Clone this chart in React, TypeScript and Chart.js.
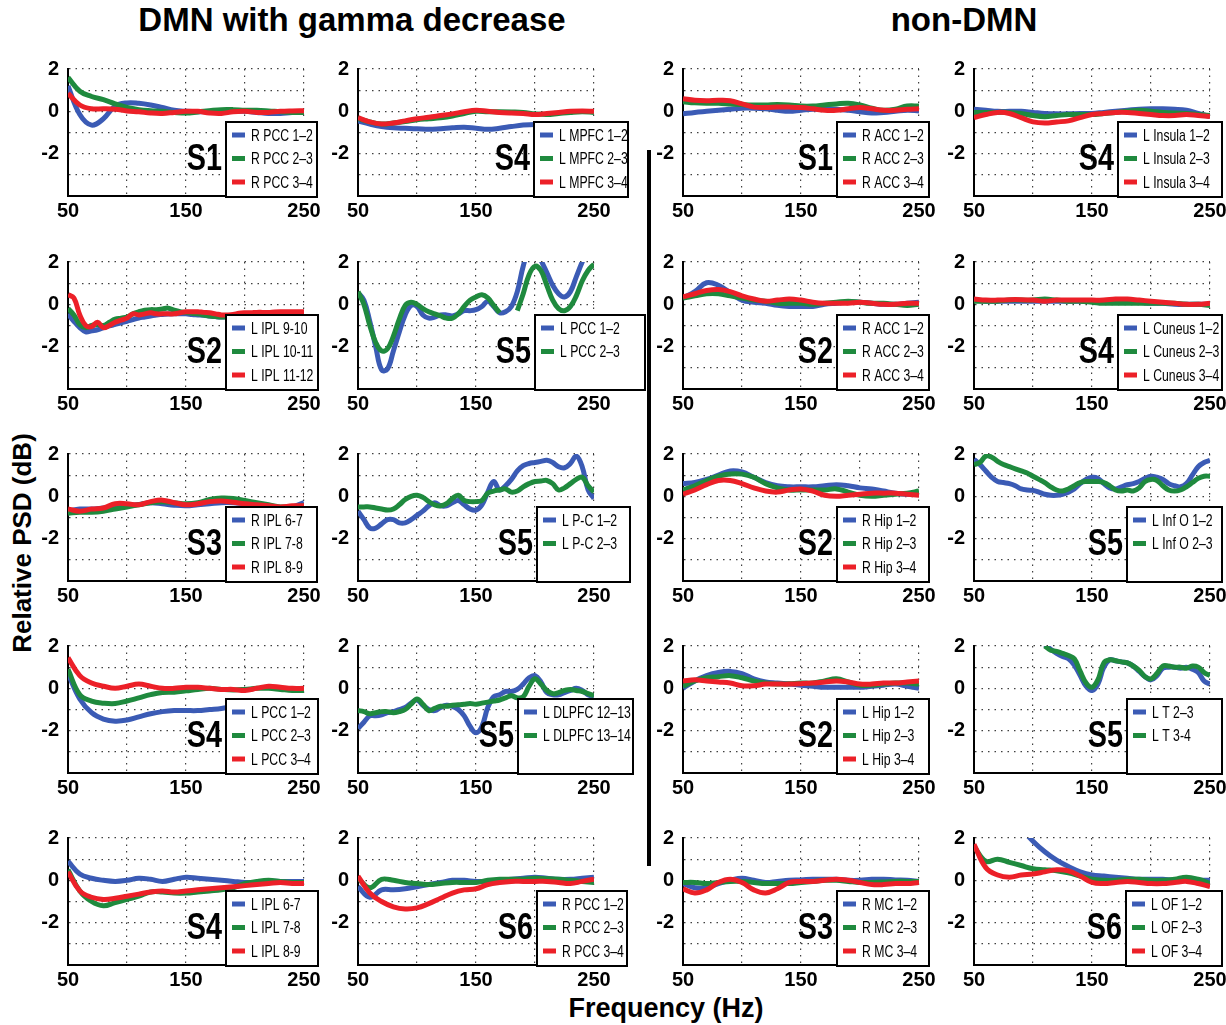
import React, { useEffect, useRef } from "react";
import { Chart, registerables } from "chart.js";

Chart.register(...registerables);

// ---------------- data ----------------
const FREQ10 = [50, 60, 70, 80, 90, 100, 110, 120, 130, 140, 150, 160, 170, 180, 190, 200, 210, 220, 230, 240, 250];
const FREQ5 = [50, 55, 60, 65, 70, 75, 80, 85, 90, 95, 100, 105, 110, 115, 120, 125, 130, 135, 140, 145, 150,
  155, 160, 165, 170, 175, 180, 185, 190, 195, 200, 205, 210, 215, 220, 225, 230, 235, 240, 245, 250];

const X_TICK_LABELS = [50, 150, 250];
const Y_TICK_LABELS = [2, 0, -2];

const TITLE_LEFT = "DMN with gamma decrease";
const TITLE_RIGHT = "non-DMN";
const Y_TITLE = "Relative PSD (dB)";
const X_TITLE = "Frequency (Hz)";

// Row 1
const RPCC_S1_LABELS = ["R PCC 1–2", "R PCC 2–3", "R PCC 3–4"];
const RPCC_S1_A = [1.2, -0.15, -0.65, -0.35, 0.25, 0.4, 0.38, 0.3, 0.18, 0.05, 0.0, -0.02, 0.0, 0.0, 0.0, 0.0, -0.05, -0.1, -0.1, -0.05, -0.05];
const RPCC_S1_B = [1.6, 0.95, 0.7, 0.55, 0.35, 0.18, 0.08, 0.03, 0.0, -0.05, -0.08, -0.03, 0.03, 0.08, 0.08, 0.05, 0.05, 0.02, -0.02, -0.05, -0.05];
const RPCC_S1_C = [0.85, 0.3, 0.12, 0.12, 0.1, 0.02, -0.02, -0.08, -0.1, -0.05, 0.0, 0.0, -0.08, -0.1, -0.02, 0.0, -0.05, -0.05, 0.0, 0.02, 0.03];

const LMPFC_S4_LABELS = ["L MPFC 1–2", "L MPFC 2–3", "L MPFC 3–4"];
const LMPFC_S4_A = [-0.45, -0.6, -0.72, -0.78, -0.8, -0.82, -0.85, -0.82, -0.78, -0.75, -0.8, -0.85, -0.8, -0.72, -0.65, -0.62, -0.65, -0.65, -0.65, -0.65, -0.65];
const LMPFC_S4_B = [-0.35, -0.5, -0.6, -0.55, -0.48, -0.4, -0.35, -0.3, -0.22, -0.1, 0.0, -0.02, -0.02, -0.03, -0.05, -0.12, -0.15, -0.1, -0.05, -0.02, -0.05];
const LMPFC_S4_C = [-0.3, -0.5, -0.6, -0.55, -0.45, -0.35, -0.28, -0.2, -0.12, -0.02, 0.05, 0.0, -0.05, -0.08, -0.1, -0.15, -0.1, -0.05, 0.0, 0.02, 0.0];

const RACC_S1_LABELS = ["R ACC 1–2", "R ACC 2–3", "R ACC 3–4"];
const RACC_S1_A = [-0.12, -0.05, 0.0, 0.05, 0.1, 0.15, 0.15, 0.12, 0.05, 0.0, 0.05, 0.1, 0.12, 0.1, 0.05, -0.02, -0.08, -0.05, 0.0, 0.05, 0.02];
const RACC_S1_B = [0.45, 0.4, 0.38, 0.38, 0.35, 0.32, 0.3, 0.3, 0.32, 0.3, 0.25, 0.25, 0.3, 0.35, 0.38, 0.3, 0.15, 0.05, 0.1, 0.25, 0.25];
const RACC_S1_C = [0.6, 0.52, 0.5, 0.52, 0.5, 0.35, 0.2, 0.18, 0.2, 0.2, 0.18, 0.12, 0.05, 0.05, 0.12, 0.18, 0.12, 0.05, 0.05, 0.1, 0.12];

const LINS_S4_LABELS = ["L Insula 1–2", "L Insula 2–3", "L Insula 3–4"];
const LINS_S4_A = [0.1, 0.05, 0.0, 0.0, 0.0, -0.05, -0.1, -0.12, -0.12, -0.1, -0.1, -0.05, 0.0, 0.05, 0.1, 0.12, 0.12, 0.1, 0.05, -0.1, -0.25];
const LINS_S4_B = [-0.05, -0.05, -0.05, -0.05, -0.1, -0.2, -0.25, -0.2, -0.15, -0.15, -0.15, -0.1, -0.05, 0.0, 0.05, 0.0, -0.05, -0.08, -0.1, -0.15, -0.2];
const LINS_S4_C = [-0.3, -0.15, -0.05, -0.1, -0.3, -0.5, -0.55, -0.5, -0.45, -0.3, -0.15, -0.1, -0.05, -0.05, -0.1, -0.15, -0.2, -0.2, -0.15, -0.2, -0.25];

// Row 2
const LIPL_S2_LABELS = ["L IPL 9-10", "L IPL 10-11", "L IPL 11-12"];
const LIPL_S2_A = [-0.45, -0.8, -1.1, -1.3, -1.25, -1.2, -1.1, -1.02, -0.95, -0.88, -0.8, -0.72, -0.65, -0.6, -0.55, -0.5, -0.48, -0.46, -0.45, -0.45, -0.45,
  -0.48, -0.5, -0.52, -0.55, -0.58, -0.6, -0.6, -0.58, -0.55, -0.5, -0.48, -0.45, -0.43, -0.42, -0.4, -0.4, -0.4, -0.4, -0.4, -0.4];
const LIPL_S2_B = [-0.2, -0.5, -0.95, -1.1, -1.0, -0.95, -1.0, -0.85, -0.7, -0.65, -0.6, -0.45, -0.35, -0.28, -0.25, -0.25, -0.22, -0.18, -0.28, -0.35, -0.38,
  -0.42, -0.45, -0.5, -0.55, -0.58, -0.6, -0.58, -0.55, -0.52, -0.5, -0.48, -0.45, -0.43, -0.42, -0.4, -0.4, -0.4, -0.4, -0.4, -0.4];
const LIPL_S2_C = [0.45, 0.3, -0.5, -1.0, -1.05, -0.85, -1.1, -1.0, -0.85, -0.75, -0.65, -0.45, -0.5, -0.45, -0.4, -0.45, -0.45, -0.45, -0.45, -0.4, -0.35,
  -0.35, -0.35, -0.38, -0.4, -0.45, -0.5, -0.5, -0.48, -0.42, -0.4, -0.4, -0.38, -0.38, -0.38, -0.36, -0.35, -0.35, -0.35, -0.35, -0.35];

const LPCC_S5_LABELS = ["L PCC 1–2", "L PCC 2–3"];
const LPCC_S5_A = [0.55, 0.2, -0.8, -2.0, -3.1, -3.05, -2.2, -1.3, -0.5, -0.05, -0.1, -0.5, -0.65, -0.6, -0.5, -0.5, -0.55, -0.45, -0.3, -0.3, -0.25,
  -0.1, 0.15, -0.1, -0.4, -0.35, -0.1, 0.6, 1.8, 2.6, 2.8, 2.1, 1.5, 0.9, 0.5, 0.35, 0.6, 1.3, 2.0, 2.6, 3.0];
const LPCC_S5_B = [0.6, 0.0, -1.0, -1.8, -2.2, -2.1, -1.5, -0.7, -0.05, 0.1, 0.0, -0.2, -0.35, -0.45, -0.55, -0.65, -0.65, -0.45, -0.1, 0.2, 0.35,
  0.45, 0.3, -0.05, -0.4, null, null, -0.3, 0.5, 1.4, 1.8, 1.6, 0.9, 0.2, -0.2, -0.3, -0.1, 0.4, 1.1, 1.6, 1.9];

const RACC_S2_LABELS = ["R ACC 1–2", "R ACC 2–3", "R ACC 3–4"];
const RACC_S2_A = [0.3, 0.6, 1.02, 0.9, 0.55, 0.2, 0.1, 0.05, -0.05, -0.1, -0.1, -0.1, 0.0, 0.05, 0.1, 0.1, 0.05, 0.0, 0.0, 0.05, 0.1];
const RACC_S2_B = [0.3, 0.4, 0.5, 0.5, 0.4, 0.3, 0.2, 0.15, 0.05, 0.05, 0.05, 0.0, 0.05, 0.1, 0.15, 0.1, 0.05, 0.05, 0.0, -0.05, 0.0];
const RACC_S2_C = [0.35, 0.5, 0.65, 0.7, 0.6, 0.4, 0.25, 0.15, 0.2, 0.25, 0.2, 0.1, 0.05, 0.05, 0.05, 0.1, 0.05, 0.0, 0.0, 0.05, 0.05];

const LCUN_S4_LABELS = ["L Cuneus 1–2", "L Cuneus 2–3", "L Cuneus 3–4"];
const LCUN_S4_A = [0.2, 0.15, 0.15, 0.15, 0.15, 0.15, 0.15, 0.15, 0.15, 0.15, 0.15, 0.15, 0.15, 0.15, 0.1, 0.05, 0.05, 0.0, 0.0, 0.0, 0.0];
const LCUN_S4_B = [0.15, 0.15, 0.15, 0.2, 0.2, 0.2, 0.25, 0.2, 0.15, 0.15, 0.1, 0.05, 0.05, 0.05, 0.05, 0.05, 0.05, 0.05, 0.0, 0.0, -0.05];
const LCUN_S4_C = [0.25, 0.2, 0.2, 0.22, 0.22, 0.2, 0.15, 0.2, 0.2, 0.2, 0.2, 0.2, 0.25, 0.25, 0.2, 0.15, 0.1, 0.05, 0.0, 0.0, 0.05];

// Row 3
const RIPL_S3_LABELS = ["R IPL 6-7", "R IPL 7-8", "R IPL 8-9"];
const RIPL_S3_A = [-0.7, -0.6, -0.6, -0.55, -0.5, -0.45, -0.38, -0.3, -0.35, -0.42, -0.45, -0.4, -0.35, -0.3, -0.3, -0.35, -0.45, -0.55, -0.6, -0.5, -0.3];
const RIPL_S3_B = [-0.8, -0.75, -0.75, -0.7, -0.6, -0.5, -0.4, -0.3, -0.25, -0.3, -0.35, -0.3, -0.15, -0.08, -0.1, -0.2, -0.3, -0.4, -0.5, -0.5, -0.45];
const RIPL_S3_C = [-0.6, -0.7, -0.6, -0.55, -0.35, -0.35, -0.4, -0.25, -0.18, -0.3, -0.4, -0.35, -0.25, -0.22, -0.28, -0.35, -0.4, -0.45, -0.5, -0.45, -0.45];

const LPC_S5_LABELS = ["L P-C 1–2", "L P-C 2–3"];
const LPC_S5_A = [-0.7, -1.1, -1.5, -1.5, -1.3, -1.1, -1.1, -1.25, -1.25, -1.1, -0.9, -0.7, -0.45, -0.3, -0.45, -0.45, -0.3, -0.2, -0.4, -0.6, -0.65,
  -0.4, 0.2, 0.7, 0.3, 0.5, 0.8, 1.2, 1.45, 1.55, 1.6, 1.65, 1.7, 1.6, 1.4, 1.35, 1.55, 1.9, 1.4, 0.3, -0.1];
const LPC_S5_B = [-0.5, -0.5, -0.5, -0.55, -0.6, -0.65, -0.6, -0.4, -0.15, 0.0, 0.05, -0.05, -0.25, -0.4, -0.45, -0.35, -0.1, 0.05, -0.2, -0.25, -0.25,
  -0.2, 0.15, 0.25, 0.3, 0.35, 0.2, 0.25, 0.45, 0.6, 0.7, 0.72, 0.75, 0.6, 0.3, 0.4, 0.6, 0.8, 0.9, 0.5, 0.2];

const RHIP_S2_LABELS = ["R Hip 1–2", "R Hip 2–3", "R Hip 3–4"];
const RHIP_S2_A = [0.6, 0.65, 0.8, 1.0, 1.2, 1.15, 0.9, 0.65, 0.5, 0.45, 0.45, 0.45, 0.5, 0.55, 0.5, 0.4, 0.35, 0.25, 0.15, 0.1, 0.1];
const RHIP_S2_B = [0.3, 0.5, 0.75, 0.95, 1.05, 1.05, 0.9, 0.6, 0.4, 0.3, 0.3, 0.3, 0.3, 0.35, 0.2, 0.05, 0.0, 0.05, 0.1, 0.15, 0.25];
const RHIP_S2_C = [0.1, 0.3, 0.55, 0.75, 0.75, 0.6, 0.4, 0.25, 0.2, 0.3, 0.35, 0.25, 0.05, 0.0, 0.05, 0.1, 0.15, 0.15, 0.15, 0.1, 0.05];

const LINFO_S5_LABELS = ["L Inf O 1–2", "L Inf O 2–3"];
const LINFO_S5_A = [1.75, 1.5, 1.2, 0.9, 0.7, 0.65, 0.6, 0.5, 0.35, 0.3, 0.28, 0.2, 0.1, 0.05, 0.05, 0.1, 0.2, 0.35, 0.6, 0.8, 0.9,
  0.85, 0.6, 0.4, 0.35, 0.45, 0.55, 0.6, 0.7, 0.85, 0.95, 0.9, 0.8, 0.6, 0.5, 0.45, 0.6, 1.0, 1.4, 1.6, 1.7];
const LINFO_S5_B = [1.5, 1.6, 1.9, 1.85, 1.65, 1.5, 1.4, 1.3, 1.2, 1.1, 0.95, 0.8, 0.65, 0.45, 0.3, 0.25, 0.35, 0.5, 0.65, 0.7, 0.7,
  0.7, 0.65, 0.5, 0.3, 0.25, 0.3, 0.25, 0.4, 0.7, 0.8, 0.75, 0.5, 0.3, 0.25, 0.3, 0.45, 0.65, 0.85, 0.95, 0.95];

// Row 4
const LPCC_S4_LABELS = ["L PCC 1–2", "L PCC 2–3", "L PCC 3–4"];
const LPCC_S4_A = [0.7, -0.5, -1.15, -1.45, -1.55, -1.5, -1.35, -1.2, -1.1, -1.05, -1.05, -1.05, -1.0, -0.95, -0.85, -0.8, -0.78, -0.75, -0.72, -0.7, -0.7];
const LPCC_S4_B = [0.9, -0.3, -0.6, -0.7, -0.72, -0.6, -0.45, -0.3, -0.2, -0.18, -0.12, -0.05, 0.0, -0.05, -0.08, -0.05, 0.0, 0.0, -0.05, -0.1, -0.1];
const LPCC_S4_C = [1.45, 0.6, 0.25, 0.1, 0.0, 0.1, 0.2, 0.1, 0.0, 0.0, 0.05, 0.05, 0.0, -0.05, -0.05, -0.1, 0.0, 0.1, 0.05, 0.0, 0.0];

const LDLPFC_S5_LABELS = ["L DLPFC 12–13", "L DLPFC 13–14"];
const LDLPFC_S5_A = [-1.9, -1.6, -1.3, -1.3, -1.25, -1.15, -1.1, -1.0, -0.9, -0.7, -0.55, -0.8, -1.0, -1.05, -0.9, -0.8, -0.85, -1.0, -1.3, -1.8, -2.1,
  -1.8, -0.9, -0.4, -0.3, -0.15, -0.15, -0.05, 0.2, 0.5, 0.6, 0.3, -0.2, -0.3, -0.3, -0.2, -0.1, 0.0, -0.1, -0.3, -0.4];
const LDLPFC_S5_B = [-1.05, -1.1, -1.2, -1.15, -1.1, -1.1, -1.15, -1.1, -1.0, -0.75, -0.5, -0.75, -1.05, -0.95, -0.85, -0.85, -0.8, -0.78, -0.75, -0.72, -0.75,
  -0.7, -0.65, -0.6, -0.55, -0.45, -0.35, -0.45, -0.4, 0.1, 0.45, 0.2, -0.1, -0.25, -0.2, -0.1, -0.05, -0.1, -0.15, -0.25, -0.35];

const LHIP_S2_LABELS = ["L Hip 1–2", "L Hip 2–3", "L Hip 3–4"];
const LHIP_S2_A = [0.0, 0.35, 0.6, 0.75, 0.8, 0.7, 0.45, 0.3, 0.25, 0.2, 0.15, 0.1, 0.05, 0.05, 0.05, 0.05, 0.1, 0.15, 0.2, 0.1, 0.0];
const LHIP_S2_B = [0.1, 0.35, 0.5, 0.55, 0.6, 0.5, 0.35, 0.25, 0.2, 0.22, 0.25, 0.25, 0.35, 0.45, 0.3, 0.15, 0.15, 0.2, 0.25, 0.25, 0.2];
const LHIP_S2_C = [0.35, 0.4, 0.35, 0.3, 0.25, 0.12, 0.12, 0.2, 0.2, 0.2, 0.22, 0.25, 0.3, 0.35, 0.3, 0.2, 0.2, 0.25, 0.25, 0.3, 0.35];

const LT_S5_LABELS = ["L T 2–3", "L T 3-4"];
const LT_S5_A = [null, null, null, null, null, null, null, null, null, null, null, null, 2.05, 1.85, 1.65, 1.5, 1.4, 1.1, 0.6, 0.1, -0.1,
  0.2, 1.0, 1.35, 1.3, 1.25, 1.2, 1.05, 0.8, 0.55, 0.4, 0.6, 0.95, 1.0, 1.0, 0.95, 1.0, 0.9, 0.75, 0.35, 0.2];
const LT_S5_B = [null, null, null, null, null, null, null, null, null, null, null, null, 2.0, 1.8, 1.75, 1.65, 1.55, 1.4, 0.8, 0.25, 0.05,
  0.4, 1.2, 1.35, 1.3, 1.25, 1.2, 1.05, 0.85, 0.55, 0.45, 0.7, 1.05, 1.05, 1.0, 1.0, 0.95, 1.05, 1.0, 0.75, 0.6];

// Row 5
const LIPL_S4_LABELS = ["L IPL 6-7", "L IPL 7-8", "L IPL 8-9"];
const LIPL_S4_A = [0.9, 0.3, 0.1, 0.0, -0.05, 0.0, 0.1, 0.05, -0.05, 0.05, 0.15, 0.1, 0.05, 0.0, -0.05, -0.1, -0.1, -0.05, -0.05, -0.05, -0.05];
const LIPL_S4_B = [0.5, -0.5, -1.0, -1.2, -1.05, -0.9, -0.75, -0.55, -0.55, -0.6, -0.6, -0.55, -0.5, -0.45, -0.35, -0.15, -0.05, 0.0, -0.05, -0.1, -0.1];
const LIPL_S4_C = [0.4, -0.5, -0.8, -0.9, -0.85, -0.75, -0.65, -0.55, -0.5, -0.55, -0.5, -0.45, -0.4, -0.35, -0.3, -0.25, -0.2, -0.15, -0.1, -0.15, -0.15];

const RPCC_S6_LABELS = ["R PCC 1–2", "R PCC 2–3", "R PCC 3–4"];
const RPCC_S6_A = [-0.3, -0.8, -0.45, -0.45, -0.4, -0.3, -0.2, -0.1, 0.0, 0.0, -0.05, -0.05, 0.0, 0.05, 0.1, 0.15, 0.1, 0.05, 0.05, 0.1, 0.15];
const RPCC_S6_B = [0.1, -0.35, 0.05, 0.0, -0.1, -0.15, -0.2, -0.15, -0.1, -0.1, -0.1, 0.0, 0.05, 0.05, 0.05, 0.1, 0.08, 0.05, 0.0, -0.05, -0.1];
const RPCC_S6_C = [0.2, -0.6, -1.0, -1.25, -1.35, -1.3, -1.1, -0.85, -0.6, -0.45, -0.4, -0.2, -0.1, -0.05, -0.05, -0.05, -0.05, -0.1, -0.15, -0.05, 0.05];

const RMC_S3_LABELS = ["R MC 1–2", "R MC 2–3", "R MC 3–4"];
const RMC_S3_A = [-0.15, -0.35, -0.35, -0.15, 0.0, 0.1, 0.0, -0.1, -0.05, 0.0, 0.02, 0.05, 0.05, 0.05, 0.0, 0.0, 0.05, 0.05, 0.02, 0.0, -0.05];
const RMC_S3_B = [-0.1, -0.1, -0.15, -0.1, -0.05, -0.05, -0.1, -0.15, -0.15, -0.15, -0.1, -0.05, 0.0, 0.0, -0.05, -0.1, -0.1, -0.08, -0.05, -0.05, -0.05];
const RMC_S3_C = [-0.4, -0.6, -0.45, -0.1, 0.05, -0.1, -0.45, -0.6, -0.4, -0.1, -0.05, -0.05, 0.0, 0.05, 0.0, -0.1, -0.2, -0.2, -0.15, -0.15, -0.1];

const LOF_S6_LABELS = ["L OF 1–2", "L OF 2–3", "L OF 3–4"];
const LOF_S6_A = [null, null, null, null, 2.45, 1.85, 1.35, 0.95, 0.65, 0.4, 0.25, 0.2, 0.15, 0.1, 0.05, 0.05, 0.05, 0.0, 0.0, 0.0, 0.0];
const LOF_S6_B = [1.6, 0.9, 1.0, 0.85, 0.7, 0.55, 0.5, 0.45, 0.35, 0.2, 0.05, 0.0, 0.0, 0.05, 0.05, 0.0, 0.0, 0.05, 0.15, 0.05, -0.15];
const LOF_S6_C = [1.7, 0.6, 0.25, 0.15, 0.25, 0.3, 0.4, 0.5, 0.45, 0.2, -0.1, -0.15, -0.1, -0.05, -0.1, -0.15, -0.15, -0.1, -0.05, -0.15, -0.3];

const PANELS = [
  { subject: "S1", freq: FREQ10, labels: RPCC_S1_LABELS, series: [RPCC_S1_A, RPCC_S1_B, RPCC_S1_C] },
  { subject: "S4", freq: FREQ10, labels: LMPFC_S4_LABELS, series: [LMPFC_S4_A, LMPFC_S4_B, LMPFC_S4_C] },
  { subject: "S1", freq: FREQ10, labels: RACC_S1_LABELS, series: [RACC_S1_A, RACC_S1_B, RACC_S1_C] },
  { subject: "S4", freq: FREQ10, labels: LINS_S4_LABELS, series: [LINS_S4_A, LINS_S4_B, LINS_S4_C] },
  { subject: "S2", freq: FREQ5, labels: LIPL_S2_LABELS, series: [LIPL_S2_A, LIPL_S2_B, LIPL_S2_C] },
  { subject: "S5", freq: FREQ5, labels: LPCC_S5_LABELS, series: [LPCC_S5_A, LPCC_S5_B] },
  { subject: "S2", freq: FREQ10, labels: RACC_S2_LABELS, series: [RACC_S2_A, RACC_S2_B, RACC_S2_C] },
  { subject: "S4", freq: FREQ10, labels: LCUN_S4_LABELS, series: [LCUN_S4_A, LCUN_S4_B, LCUN_S4_C] },
  { subject: "S3", freq: FREQ10, labels: RIPL_S3_LABELS, series: [RIPL_S3_A, RIPL_S3_B, RIPL_S3_C] },
  { subject: "S5", freq: FREQ5, labels: LPC_S5_LABELS, series: [LPC_S5_A, LPC_S5_B] },
  { subject: "S2", freq: FREQ10, labels: RHIP_S2_LABELS, series: [RHIP_S2_A, RHIP_S2_B, RHIP_S2_C] },
  { subject: "S5", freq: FREQ5, labels: LINFO_S5_LABELS, series: [LINFO_S5_A, LINFO_S5_B] },
  { subject: "S4", freq: FREQ10, labels: LPCC_S4_LABELS, series: [LPCC_S4_A, LPCC_S4_B, LPCC_S4_C] },
  { subject: "S5", freq: FREQ5, labels: LDLPFC_S5_LABELS, series: [LDLPFC_S5_A, LDLPFC_S5_B] },
  { subject: "S2", freq: FREQ10, labels: LHIP_S2_LABELS, series: [LHIP_S2_A, LHIP_S2_B, LHIP_S2_C] },
  { subject: "S5", freq: FREQ5, labels: LT_S5_LABELS, series: [LT_S5_A, LT_S5_B] },
  { subject: "S4", freq: FREQ10, labels: LIPL_S4_LABELS, series: [LIPL_S4_A, LIPL_S4_B, LIPL_S4_C] },
  { subject: "S6", freq: FREQ10, labels: RPCC_S6_LABELS, series: [RPCC_S6_A, RPCC_S6_B, RPCC_S6_C] },
  { subject: "S3", freq: FREQ10, labels: RMC_S3_LABELS, series: [RMC_S3_A, RMC_S3_B, RMC_S3_C] },
  { subject: "S6", freq: FREQ10, labels: LOF_S6_LABELS, series: [LOF_S6_A, LOF_S6_B, LOF_S6_C] },
];

// ---------------- layout & style ----------------
const COLORS = ["#3b5bb5", "#1f8a3e", "#ec2028"];
const COL_LEFT = [68, 358, 683, 974];
const ROW_TOP = [64, 257, 449, 641, 833];
const PLOT_W = 236;
const PLOT_H = 132;
const PAD_L = 50;
const PAD_T = 16;
const PAD_R = 62;
const PAD_B = 34;
// legend box [left, right] offsets from the plot's right edge
const LEGEND_BOX = [
  [-78, 13], [-60, 34], [-82, 10], [-92, 12],
  [-78, 14], [-59, 51], [-82, 10], [-92, 12],
  [-78, 13], [-57, 36], [-82, 10], [-83, 12],
  [-78, 14], [-76, 39], [-82, 10], [-83, 12],
  [-78, 14], [-57, 33], [-82, 10], [-84, 12],
];

const SANS = '"Liberation Sans", Arial, sans-serif';
const CONDENSE = 0.72;
const S_CONDENSE = 0.8;

const panelDecor = {
  id: "panelDecor",
  afterDatasetsDraw(chart: any, _args: any, opts: any) {
    const { ctx, chartArea } = chart;
    const bx = chartArea.right + opts.box[0];
    const bw = opts.box[1] - opts.box[0];
    const by = chartArea.top + 53;
    const bh = 75;
    ctx.save();
    ctx.fillStyle = "#ffffff";
    ctx.fillRect(bx, by, bw, bh);
    ctx.lineWidth = 2;
    ctx.strokeStyle = "#000";
    ctx.strokeRect(bx, by, bw, bh);
    chart.data.datasets.forEach((ds: any, i: number) => {
      const y = by + 13 + i * 23.5;
      ctx.strokeStyle = ds.borderColor;
      ctx.lineWidth = 5;
      ctx.beginPath();
      ctx.moveTo(bx + 6, y);
      ctx.lineTo(bx + 19, y);
      ctx.stroke();
      ctx.save();
      ctx.translate(bx + 25, y + 1);
      ctx.scale(CONDENSE, 1);
      ctx.fillStyle = "#000";
      ctx.font = `17px ${SANS}`;
      ctx.textAlign = "left";
      ctx.textBaseline = "middle";
      ctx.fillText(ds.label, 0, 0);
      ctx.restore();
    });
    ctx.save();
    ctx.translate(bx - 4, chartArea.top + 101);
    ctx.scale(S_CONDENSE, 1);
    ctx.fillStyle = "#000";
    ctx.font = `bold 36px ${SANS}`;
    ctx.textAlign = "right";
    ctx.textBaseline = "alphabetic";
    ctx.fillText(opts.subject, 0, 0);
    ctx.restore();
    ctx.restore();
  },
};

function Panel({ index }: { index: number }) {
  const ref = useRef<HTMLCanvasElement | null>(null);
  const p = PANELS[index];
  const row = Math.floor(index / 4);
  const col = index % 4;
  const left = COL_LEFT[col] - PAD_L;
  const top = ROW_TOP[row] - PAD_T;
  const width = PAD_L + PLOT_W + PAD_R;
  const height = PAD_T + PLOT_H + PAD_B;

  useEffect(() => {
    if (!ref.current) return;
    const n = p.series.length;
    const chart = new Chart(ref.current, {
      type: "line",
      data: {
        datasets: p.series.map((vals, i) => ({
          label: p.labels[i],
          data: p.freq.map((f, j) => ({ x: f, y: vals[j] })),
          borderColor: COLORS[i],
          backgroundColor: COLORS[i],
          borderWidth: 5,
          pointRadius: 0,
          pointHoverRadius: 0,
          tension: 0.4,
          fill: false,
          spanGaps: false,
          order: n - i,
        })),
      },
      options: {
        animation: false,
        responsive: false,
        events: [],
        layout: { padding: { left: 0, top: PAD_T, right: PAD_R, bottom: 0 } },
        plugins: {
          legend: { display: false },
          tooltip: { enabled: false },
          panelDecor: { box: LEGEND_BOX[index], subject: p.subject },
        } as any,
        scales: {
          x: {
            type: "linear",
            min: 50,
            max: 250,
            afterFit: (s: any) => { s.height = PAD_B; },
            ticks: {
              stepSize: 50,
              autoSkip: false,
              maxRotation: 0,
              padding: 3,
              color: "#000",
              font: { family: SANS, size: 20, weight: "bold" },
              callback: (v: any) => (X_TICK_LABELS.includes(Number(v)) ? String(v) : ""),
            },
            grid: { color: "rgba(0,0,0,0.75)", lineWidth: 1.2, drawTicks: false },
            border: { display: true, color: "#000", width: 2, dash: [1.5, 5] },
          },
          y: {
            type: "linear",
            min: -4,
            max: 2,
            afterFit: (s: any) => { s.width = PAD_L; },
            ticks: {
              stepSize: 1,
              autoSkip: false,
              padding: 9,
              color: "#000",
              font: { family: SANS, size: 20, weight: "bold" },
              callback: (v: any) => (Y_TICK_LABELS.includes(Number(v)) ? String(v) : ""),
            },
            grid: { color: "rgba(0,0,0,0.75)", lineWidth: 1.2, drawTicks: false },
            border: { display: true, color: "#000", width: 2, dash: [1.5, 5] },
          },
        },
      } as any,
      plugins: [panelDecor],
    });
    return () => chart.destroy();
  }, [index]);

  return (
    <canvas
      ref={ref}
      width={width}
      height={height}
      style={{ position: "absolute", left, top, width, height }}
    />
  );
}

export default function App() {
  return (
    <div style={{ position: "absolute", left: 0, top: 0, width: 1226, height: 1025, background: "#fff", overflow: "hidden" }}>
      <div style={{ position: "absolute", left: 352, top: 1, transform: "translateX(-50%)", whiteSpace: "nowrap",
        font: `bold 33px ${SANS}`, color: "#000" }}>{TITLE_LEFT}</div>
      <div style={{ position: "absolute", left: 964, top: 1, transform: "translateX(-50%)", whiteSpace: "nowrap",
        font: `bold 33px ${SANS}`, color: "#000" }}>{TITLE_RIGHT}</div>
      <div style={{ position: "absolute", left: 22, top: 543, transform: "translate(-50%, -50%) rotate(-90deg)", whiteSpace: "nowrap",
        font: `bold 26px ${SANS}`, color: "#000" }}>{Y_TITLE}</div>
      <div style={{ position: "absolute", left: 666, top: 1008, transform: "translate(-50%, -50%)", whiteSpace: "nowrap",
        font: `bold 27px ${SANS}`, color: "#000" }}>{X_TITLE}</div>
      <div style={{ position: "absolute", left: 647, top: 150, width: 4, height: 716, background: "#000" }} />
      {PANELS.map((_, i) => (
        <Panel key={i} index={i} />
      ))}
    </div>
  );
}
